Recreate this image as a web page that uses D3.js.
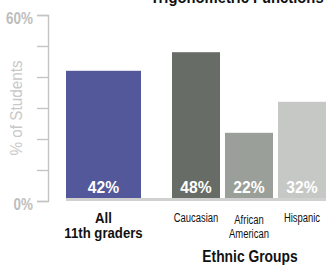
<!DOCTYPE html>
<html>
<head>
<meta charset="utf-8">
<script src="https://cdn.jsdelivr.net/npm/d3@7"></script>
<style>
  body { margin: 0; background: #fff; }
  svg { display: block; }
  text { font-family: "Liberation Sans", Arial, sans-serif; }
</style>
</head>
<body>
<div class="container"></div>
<script>
// data
const allLabel = ["All", "11th graders"]
const allValue = 42
const groups = ["Caucasian", "African American", "Hispanic"]
const groupValues = [48, 22, 32]
const groupLines = [["Caucasian"], ["African", "American"], ["Hispanic"]]
const barColors = ["#676d66", "#9b9f99", "#c6c8c5"]
const allColor = "#525899"
const yTicks = [0, 10, 20, 30, 40, 50, 60]
const yTickLabels = {0: "0%", 60: "60%"}

const w = 326
const h = 269

const svg = d3.select(".container")
              .append("svg")
              .attr("width", w)
              .attr("height", h)

const yScale = d3.scaleLinear()
                 .domain([0, 60])
                 .range([201, 15])

const xAll = d3.scaleBand()
               .domain(["All"])
               .range([66, 141])

const xGroup = d3.scaleBand()
                 .domain(groups)
                 .range([172, 326])
                 .paddingInner(0.094)
                 .paddingOuter(0)

const barBottom = 198

// narrow text: the original uses a condensed face, so squeeze Liberation Sans
const label = (x, y, str, size, weight, sx, fill) => {
    return svg.append("text")
       .attr("transform", "translate(" + x + "," + y + ") scale(" + sx + ",1)")
       .attr("text-anchor", "middle")
       .attr("font-size", size)
       .attr("font-weight", weight)
       .attr("fill", fill)
       .text(str)
}

// title, cut off at the top
label(237, 3, "Trigonometric Functions", 17, "bold", 0.87, "#111")

// y axis
const yAxis = d3.axisLeft(yScale)
                .tickValues(yTicks)
                .tickSize(11)
                .tickFormat(d => yTickLabels[d] || "")
const gy = svg.append("g")
              .attr("transform", "translate(48,0)")
              .call(yAxis)
gy.select(".domain").attr("stroke", "#c4c4c4").attr("stroke-width", 1.4)
gy.selectAll(".tick line").attr("stroke", "#c4c4c4").attr("stroke-width", 1.4)
gy.selectAll(".tick text")
  .attr("fill", "#bdbdbd")
  .attr("font-size", 16)
  .attr("font-weight", "bold")
  .attr("x", -15 / 0.84)
  .attr("dy", "0.5em")
  .attr("transform", "scale(0.84,1)")
  .style("font-family", "'Liberation Sans', Arial, sans-serif")

svg.append("text")
   .attr("transform", "translate(22,108) rotate(-90) scale(0.9,1)")
   .attr("text-anchor", "middle")
   .attr("font-size", 17)
   .attr("fill", "#c8c8c8")
   .text("% of Students")

// baseline under the bars
svg.append("rect")
   .attr("x", 66)
   .attr("y", barBottom)
   .attr("width", w - 66)
   .attr("height", 3)
   .attr("fill", "#d0d0d0")

// bars
svg.append("rect")
   .attr("x", xAll("All"))
   .attr("y", yScale(allValue))
   .attr("width", xAll.bandwidth())
   .attr("height", barBottom - yScale(allValue))
   .attr("fill", allColor)

svg.selectAll(".bar")
   .data(groupValues)
   .enter()
   .append("rect")
   .attr("class", "bar")
   .attr("x", (d, i) => xGroup(groups[i]))
   .attr("y", d => yScale(d))
   .attr("width", xGroup.bandwidth())
   .attr("height", d => barBottom - yScale(d))
   .attr("fill", (d, i) => barColors[i])

// value labels
label(xAll("All") + xAll.bandwidth() / 2, 193, allValue + "%", 17, "bold", 0.92, "#fff")
groupValues.forEach((v, i) => {
    label(xGroup(groups[i]) + xGroup.bandwidth() / 2, 193, v + "%", 17, "bold", 0.92, "#fff")
})

// category labels
allLabel.forEach((s, i) => {
    label(xAll("All") + xAll.bandwidth() / 2, 222.5 + i * 15.5, s, 15.5, "bold", 0.85, "#111")
})

groupLines.forEach((lines, i) => {
    lines.forEach((s, j) => {
        const y = (lines.length > 1 ? 223.5 : 221.5) + j * 14
        label(xGroup(groups[i]) + xGroup.bandwidth() / 2, y, s, 13.5, "normal", 0.7, "#111")
    })
})

label(250, 262, "Ethnic Groups", 16.5, "bold", 0.84, "#111")
</script>
</body>
</html>
